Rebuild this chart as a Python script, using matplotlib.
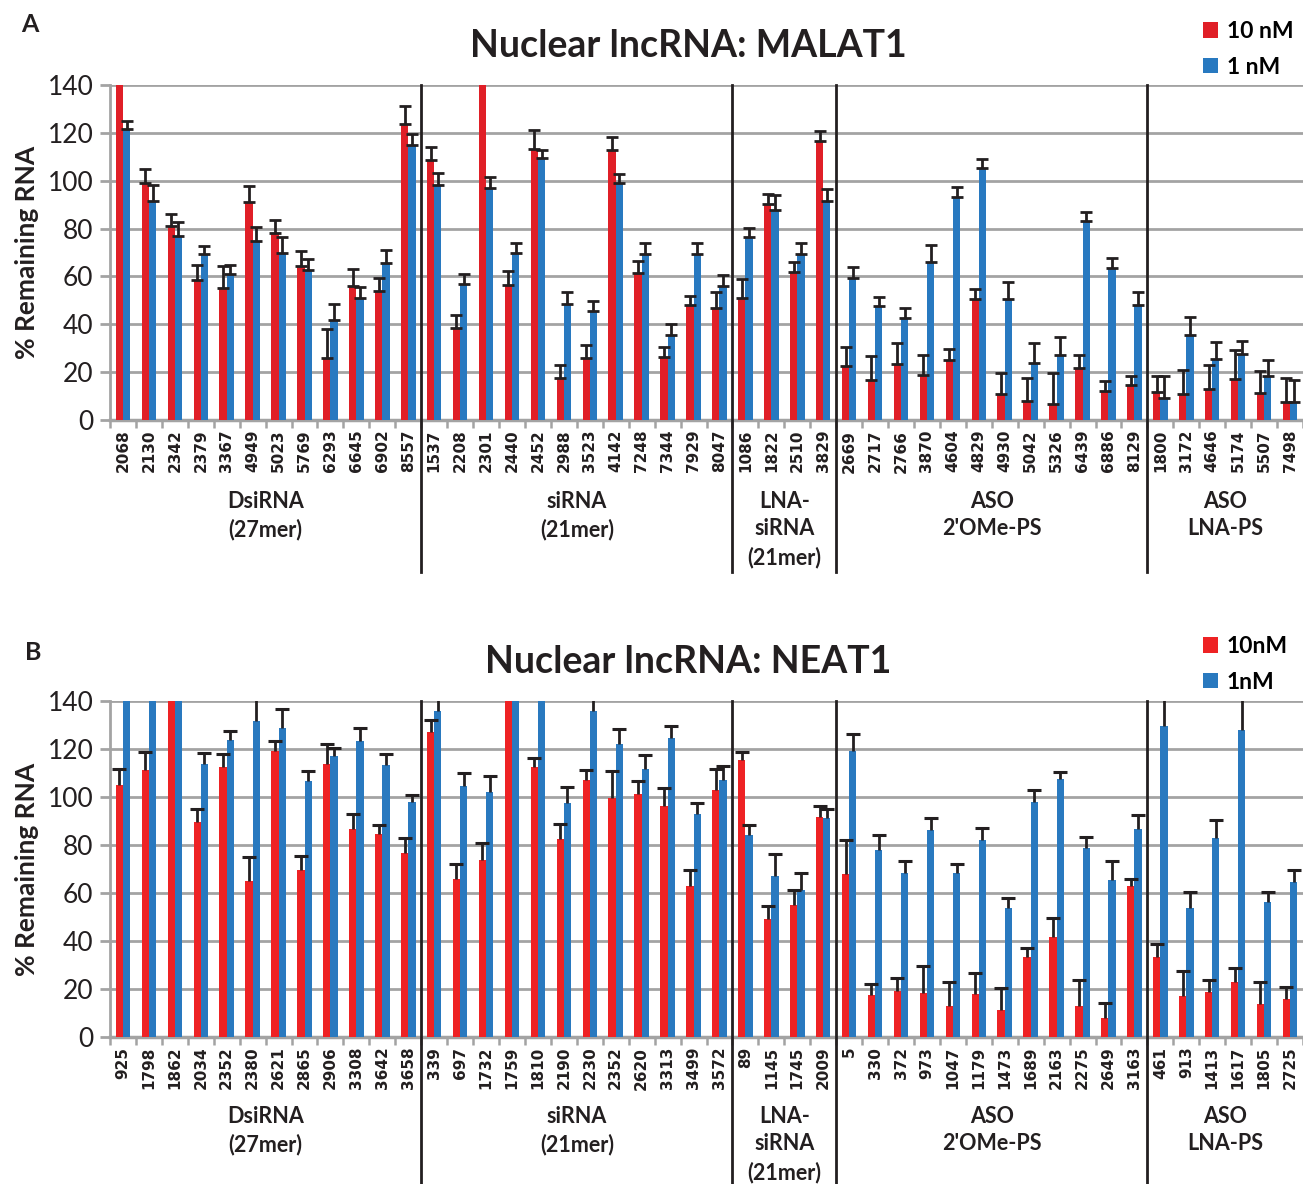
import numpy as np
import matplotlib
matplotlib.use("Agg")
import matplotlib.pyplot as plt
from matplotlib.patches import Patch
import matplotlib.transforms as mtransforms

# ---------------- data ----------------
groups = ["DsiRNA\n(27mer)", "siRNA\n(21mer)", "LNA-\nsiRNA\n(21mer)", "ASO\n2'OMe-PS", "ASO\nLNA-PS"]
group_sizes = [12, 12, 4, 12, 6]

malat_labels = ["2068", "2130", "2342", "2379", "3367", "4949", "5023", "5769", "6293", "6645", "6902", "8557",
                "1537", "2208", "2301", "2440", "2452", "2988", "3523", "4142", "7248", "7344", "7929", "8047",
                "1086", "1822", "2510", "3829",
                "2669", "2717", "2766", "3870", "4604", "4829", "4930", "5042", "5326", "6439", "6886", "8129",
                "1800", "3172", "4646", "5174", "5507", "7498"]
malat_10 = [150, 98.9, 81, 58.7, 55.3, 91, 78, 64.4, 26, 55.9, 53.9, 123.8,
            108.7, 38.4, 150, 56.6, 113.2, 17.6, 26, 112.9, 61.6, 26.3, 47.9, 46.9,
            51.1, 90.1, 61.8, 116.4,
            22.4, 16.9, 23.2, 19, 24.9, 50.4, 10.9, 7.8, 6.7, 21.8, 12.3, 14.8,
            11.6, 10.9, 13, 17.2, 11.2, 7.7]
malat_10_err = [5, 6, 5, 6, 9, 6.8, 5.7, 6.2, 12, 7.1, 5.3, 7.4,
                5.2, 5.3, 5, 5.7, 8.2, 5.3, 5.2, 5.3, 4.8, 4.3, 4.1, 6.8,
                7.7, 4.4, 4.4, 4.2,
                8.3, 9.8, 9.1, 8, 4.6, 4.2, 8.7, 9.8, 13, 5.4, 3.9, 3.6,
                6.6, 9.8, 9.8, 12, 9.1, 9.8]
malat_1 = [121.6, 91.7, 76.8, 69.2, 61, 74.9, 69.6, 62.6, 41.6, 50.9, 65.7, 115.1,
           98.2, 57, 96.8, 69.7, 109.4, 48.3, 45.5, 98.9, 69.2, 35.5, 69.3, 56,
           76.6, 87.7, 69.3, 91.5,
           59.5, 47.5, 42.6, 66, 93.3, 105.5, 50.4, 23.9, 27, 83.1, 63.7, 48.2,
           9.2, 35.6, 25.4, 27.7, 18.4, 7.7]
malat_1_err = [3.2, 6.5, 5.8, 3.6, 3.8, 5.9, 7, 4.7, 7, 4.5, 5.3, 4.4,
               5.2, 4, 4.9, 4.3, 3.5, 5.3, 4.2, 3.9, 4.6, 4.7, 4.5, 4.4,
               3.7, 6.3, 4.7, 4.9,
               4.6, 3.8, 4.1, 7.2, 4.1, 3.6, 7.3, 8.1, 7.7, 3.9, 4.2, 5.3,
               9, 7.4, 7.2, 5.3, 6.8, 9.1]

neat_labels = ["925", "1798", "1862", "2034", "2352", "2380", "2621", "2865", "2906", "3308", "3642", "3658",
               "339", "697", "1732", "1759", "1810", "2190", "2230", "2352", "2620", "3313", "3499", "3572",
               "89", "1145", "1745", "2009",
               "5", "330", "372", "973", "1047", "1179", "1473", "1689", "2163", "2275", "2649", "3163",
               "461", "913", "1413", "1617", "1805", "2725"]
neat_10 = [105, 111.3, 150, 89.6, 112.5, 64.9, 119, 69.7, 113.9, 86.5, 84.4, 76.8,
           127.1, 66, 73.6, 150, 112.5, 82.5, 107.2, 99.7, 101.4, 96.1, 62.9, 103.1,
           115.6, 49.2, 55.1, 91.8,
           67.9, 17.5, 19.2, 18.2, 13.1, 17.8, 11.4, 33.3, 41.5, 12.8, 7.8, 63.1,
           33.2, 17.2, 18.8, 23.1, 13.6, 15.7]
neat_10_err = [6.8, 7.5, 5, 5.5, 5.6, 10.1, 4.3, 5.7, 8.3, 6.3, 4.1, 6.1,
               5, 6, 7.2, 5, 3.6, 6.3, 3.9, 11.1, 5.1, 7.7, 6.5, 8.6,
               3, 5.4, 6, 4.5,
               14.2, 4.4, 5.5, 11.2, 9.7, 8.9, 9.2, 3.9, 8.2, 10.8, 6.2, 2.9,
               5.4, 10.2, 4.8, 5.7, 9.2, 5.3]
neat_1 = [150, 150, 150, 113.9, 123.6, 131.7, 128.6, 106.5, 117, 123.3, 113.3, 98,
          135.8, 104.6, 102.1, 150, 150, 97.6, 135.8, 122.2, 111.5, 124.7, 93, 106.9,
          84.3, 67.2, 61.4, 91.1,
          119.2, 78.1, 68.5, 86.1, 68.3, 81.9, 53.9, 98, 107.5, 78.9, 65.3, 86.8,
          129.4, 53.8, 82.8, 128.1, 56.4, 64.4]
neat_1_err = [5, 5, 5, 4.6, 4, 12, 8.2, 4.5, 3.3, 5.6, 4.6, 3,
              8, 5.4, 6.5, 5, 5, 6.4, 8, 6.1, 5.9, 4.9, 4.6, 5.9,
              4.2, 8.9, 6.8, 4,
              7.2, 6.2, 4.8, 5, 3.9, 5.2, 4, 4.9, 2.9, 4.6, 7.9, 5.8,
              15, 6.8, 7.6, 15, 4.2, 5]

RED_A = "#E01F27"
BLUE_A = "#2879C0"
RED_B = "#EE2224"
BLUE_B = "#2979BF"
GRID = "#A3A3A3"
INK = "#231F20"

W, H = 1303, 1184
fig = plt.figure(figsize=(W / 100, H / 100), dpi=100)

FONT = "Lato"


def px_axes(left, top, right, bottom):
    return fig.add_axes([left / W, 1 - bottom / H, (right - left) / W, (bottom - top) / H])


def draw_panel(ax, labels, v10, e10, v1, e1, red, blue, caps_both, bottom_px, axes_h, title, letter,
               leg_labels, title_y, letter_xy, leg_y, sep_bottom_px, grp_top_px):
    n = len(labels)
    x = np.arange(n)
    w = 0.28
    ax.bar(x - w / 2, v10, w, color=red, zorder=3)
    ax.bar(x + w / 2, v1, w, color=blue, zorder=3)
    for xs, vals, errs in ((x - w / 2, v10, e10), (x + w / 2, v1, e1)):
        vals = np.array(vals, float)
        errs = np.array(errs, float)
        if caps_both:
            ax.errorbar(xs, vals, yerr=[np.zeros(n), errs], fmt="none", ecolor=INK,
                        elinewidth=2, capsize=4.5, capthick=2, zorder=4)
        else:
            ax.errorbar(xs, vals, yerr=[np.zeros(n), errs], fmt="none", ecolor=INK,
                        elinewidth=2, capsize=0, zorder=4)
            ax.plot(xs, vals + errs, ls="none", marker="_", ms=10, mew=2.2, color=INK, zorder=4)

    ax.set_xlim(-0.5, n - 0.5)
    ax.set_ylim(0, 140)
    ax.set_yticks(np.arange(0, 141, 20))
    ax.yaxis.grid(True, color=GRID, lw=2, zorder=0)
    ax.set_axisbelow(True)
    for s in ("top", "right"):
        ax.spines[s].set_visible(False)
    ax.spines["left"].set_color(GRID)
    ax.spines["left"].set_linewidth(2)
    ax.spines["bottom"].set_color(GRID)
    ax.spines["bottom"].set_linewidth(2.5)
    ax.tick_params(axis="y", length=7, width=2, color=GRID, labelsize=19, pad=5)
    for t in ax.get_yticklabels():
        t.set_fontfamily(FONT)
        t.set_color(INK)
    ax.set_xticks(x)
    ax.set_xticklabels(labels, rotation=90, fontsize=11, fontweight="bold",
                       fontfamily="DejaVu Sans", color=INK)
    ax.tick_params(axis="x", which="major", length=0, pad=7)
    ax.set_xticks(np.arange(-0.5, n, 1), minor=True)
    ax.tick_params(axis="x", which="minor", length=6, width=1.8, color=GRID)
    ax.set_ylabel("% Remaining RNA", fontsize=19, fontweight="bold", fontfamily=FONT,
                  color=INK, labelpad=6)

    trans = mtransforms.blended_transform_factory(ax.transData, ax.transAxes)
    bounds = np.cumsum(group_sizes)
    sep_frac = (bottom_px - sep_bottom_px) / axes_h
    for b in bounds[:-1]:
        ax.plot([b - 0.5, b - 0.5], [sep_frac, 1.0], transform=trans, color=INK, lw=2,
                clip_on=False, zorder=5)
    starts = np.concatenate([[0], bounds[:-1]])
    y_lab = (bottom_px - grp_top_px) / axes_h
    for g, s, sz in zip(groups, starts, group_sizes):
        ax.text(s + sz / 2 - 0.5, y_lab, g, transform=trans, ha="center", va="top",
                fontsize=15.5, fontweight="bold", fontfamily=FONT, color=INK, linespacing=1.38)

    fig.text(688 / W, 1 - title_y / H, title, ha="center", va="center", fontsize=27,
             fontweight="bold", fontfamily=FONT, color=INK)
    fig.text(letter_xy[0] / W, 1 - letter_xy[1] / H, letter, ha="center", va="center",
             fontsize=18, fontweight="bold", fontfamily=FONT, color=INK)
    handles = [Patch(facecolor=red), Patch(facecolor=blue)]
    fig.legend(handles, leg_labels, loc="upper left",
               bbox_to_anchor=(1203 / W, 1 - leg_y / H), frameon=False,
               prop={"family": FONT, "weight": "bold", "size": 16.5},
               handlelength=0.65, handleheight=0.65, handletextpad=0.4, labelspacing=0.65,
               borderaxespad=0, borderpad=0)


axA = px_axes(110, 85, 1303, 420)
draw_panel(axA, malat_labels, malat_10, malat_10_err, malat_1, malat_1_err, RED_A, BLUE_A, True,
           420, 335, "Nuclear lncRNA: MALAT1", "A", ["10 nM", "1 nM"], 46, (30, 24), 21, 572, 491)

axB = px_axes(110, 701, 1303, 1037)
draw_panel(axB, neat_labels, neat_10, neat_10_err, neat_1, neat_1_err, RED_B, BLUE_B, False,
           1037, 336, "Nuclear lncRNA: NEAT1", "B", ["10nM", "1nM"], 662, (33, 653), 636, 1184, 1106)

fig.savefig("out.png", dpi=100)
